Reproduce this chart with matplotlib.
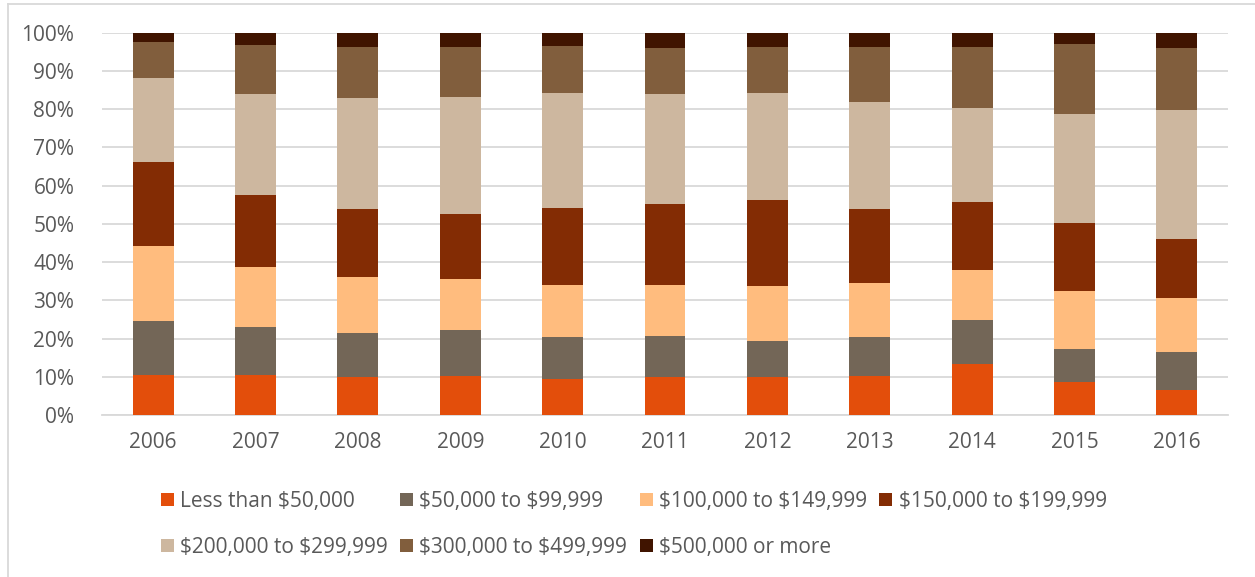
import numpy as np
import matplotlib
matplotlib.use('Agg')
import matplotlib.pyplot as plt
from matplotlib.lines import Line2D

years = ['2006', '2007', '2008', '2009', '2010', '2011', '2012', '2013', '2014', '2015', '2016']

labels = ['Less than $50,000', '$50,000 to $99,999', '$100,000 to $149,999',
          '$150,000 to $199,999', '$200,000 to $299,999', '$300,000 to $499,999',
          '$500,000 or more']

# shares in percent
less_50k = [10.4, 10.4, 10.0, 10.1, 9.5, 9.9, 9.9, 10.2, 13.3, 8.6, 6.5]
k50_100 = [14.2, 12.7, 11.4, 12.1, 10.9, 10.8, 9.5, 10.2, 11.5, 8.7, 9.9]
k100_150 = [19.5, 15.6, 14.6, 13.5, 13.5, 13.3, 14.3, 14.0, 13.2, 15.1, 14.1]
k150_200 = [22.1, 18.8, 17.8, 17.0, 20.3, 21.3, 22.5, 19.6, 17.8, 17.9, 15.5]
k200_300 = [21.9, 26.5, 29.1, 30.5, 30.1, 28.7, 28.0, 28.0, 24.4, 28.4, 33.9]
k300_500 = [9.4, 12.8, 13.4, 13.1, 12.2, 12.0, 12.1, 14.3, 16.1, 18.3, 16.2]
k500_up = [2.5, 3.2, 3.7, 3.7, 3.5, 4.0, 3.7, 3.7, 3.7, 3.0, 3.9]

colors = ['#E34E0B', '#736657', '#FFBC7E', '#832C04', '#CDB79F', '#815E3D', '#401400']

series = [less_50k, k50_100, k100_150, k150_200, k200_300, k300_500, k500_up]

plt.rcParams['font.family'] = ['Open Sans', 'DejaVu Sans']
text_color = '#595959'
grid_color = '#D9D9D9'
fsize = 15

fig = plt.figure(figsize=(12.55, 5.77), dpi=100)
ax = fig.add_axes([0.0813, 0.2808, 0.8972, 0.6625])

x = np.arange(len(years))
data = np.array(series, dtype=float)
totals = data.sum(axis=0)
shares = data / totals * 100

bottom = np.zeros(len(years))
handles = []
for vals, col, lab in zip(shares, colors, labels):
    b = ax.bar(x, vals, 0.4, bottom=bottom, color=col, zorder=3)
    handles.append(b)
    bottom += vals

ax.set_xlim(-0.5, len(years) - 0.5)
ax.set_ylim(0, 100)
ax.set_yticks(np.arange(0, 101, 10))
ax.set_yticklabels(['{}%'.format(v) for v in range(0, 101, 10)])
ax.set_xticks(x)
ax.set_xticklabels(years)
ax.yaxis.grid(True, color=grid_color, linewidth=1.3, zorder=0)
ax.set_axisbelow(True)
for s in ['top', 'right', 'left']:
    ax.spines[s].set_visible(False)
ax.spines['bottom'].set_color(grid_color)
ax.spines['bottom'].set_linewidth(1.3)
ax.tick_params(axis='both', length=0, labelsize=fsize, labelcolor=text_color)
ax.tick_params(axis='y', pad=20)
ax.tick_params(axis='x', pad=12)

# row-wise ordering for a 4 column legend
order = [0, 4, 1, 5, 2, 6, 3]
leg = fig.legend([handles[i] for i in order], [labels[i].replace('$', r'\$') for i in order],
                 ncol=4, loc='upper left', bbox_to_anchor=(0.128, 0.149),
                 frameon=False, fontsize=fsize, handlelength=0.62, handleheight=0.62,
                 handletextpad=0.3, columnspacing=0.6, labelspacing=1.18,
                 borderaxespad=0, borderpad=0)
for t in leg.get_texts():
    t.set_color(text_color)

# chart frame: only the left and top edges show in the picture
fig.lines.append(Line2D([0.0066, 0.0066], [0.0, 0.993], transform=fig.transFigure,
                        color=grid_color, linewidth=1.3))
fig.lines.append(Line2D([0.0066, 1.0], [0.993, 0.993], transform=fig.transFigure,
                        color=grid_color, linewidth=1.3))

fig.savefig('out.png', dpi=100, facecolor='white')
